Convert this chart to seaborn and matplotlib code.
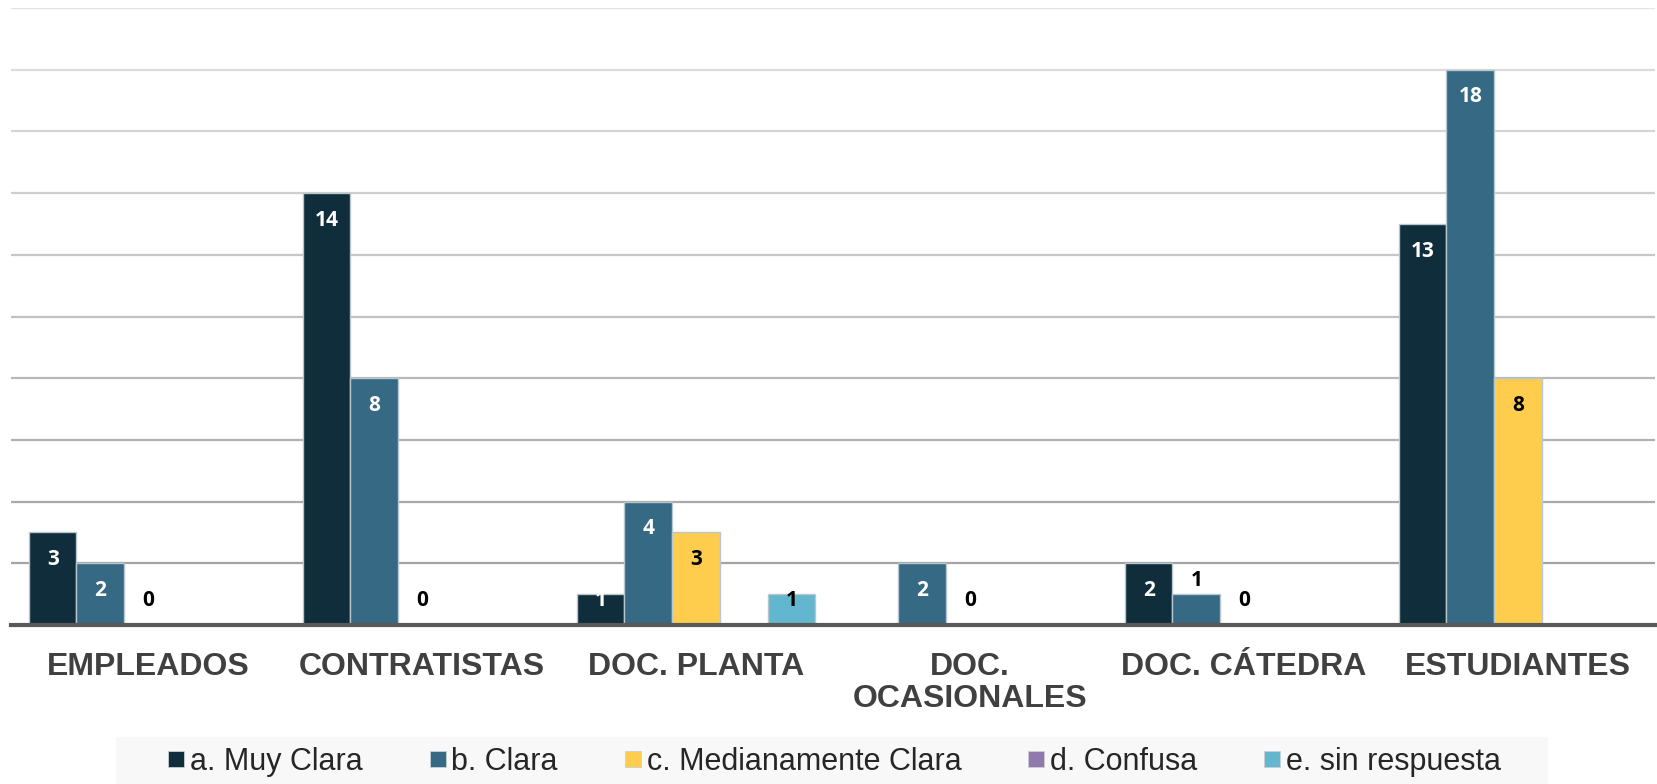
import numpy as np
import pandas as pd
import matplotlib
matplotlib.use("Agg")
import matplotlib.pyplot as plt
from matplotlib.lines import Line2D
import seaborn as sns

categories = ["EMPLEADOS", "CONTRATISTAS", "DOC. PLANTA", "DOC.\nOCASIONALES", "DOC. CÁTEDRA", "ESTUDIANTES"]
series = ["a. Muy Clara", "b. Clara", "c. Medianamente Clara", "d. Confusa", "e. sin respuesta"]
muy_clara = [3, 14, 1, np.nan, 2, 13]
clara = [2, 8, 4, 2, 1, 18]
medianamente = [0, 0, 3, 0, 0, 8]
confusa = [np.nan, np.nan, np.nan, np.nan, np.nan, np.nan]
sin_respuesta = [np.nan, np.nan, 1, np.nan, np.nan, np.nan]
colors = ["#0F2D3B", "#366983", "#FFCD4E", "#9179AE", "#62B6CD"]

values = [muy_clara, clara, medianamente, confusa, sin_respuesta]
rows = []
for s, vals in zip(series, values):
    for c, v in zip(categories, vals):
        rows.append({"cat": c, "serie": s, "val": v})
df = pd.DataFrame(rows)

sns.set_style("white")
plt.rcParams["font.family"] = ["Liberation Sans", "DejaVu Sans"]

fig = plt.figure(figsize=(16.57, 7.84), dpi=100)
ax = fig.add_axes([11 / 1657, 1 - 625 / 784, 1644 / 1657, 617 / 784])

width = 0.87
sns.barplot(data=df.dropna(), x="cat", y="val", hue="serie", order=categories,
            hue_order=series, palette=colors, saturation=1, width=width, dodge=True,
            edgecolor="#B8C6CD", linewidth=1, ax=ax, legend=False, zorder=3,
            errorbar=None)

ax.set_ylim(0, 20)
ax.set_xlim(-0.5, len(categories) - 0.5)
ax.set_yticks(np.arange(2, 21, 2))
ax.set_yticklabels([])
ax.tick_params(axis="y", length=0)
ax.tick_params(axis="x", length=0, pad=19.5)
ax.set_xlabel("")
ax.set_ylabel("")
for lbl in ax.get_xticklabels():
    lbl.set_fontsize(23)
    lbl.set_fontweight("bold")
    lbl.set_color("#404040")
    lbl.set_linespacing(1.1)

ax.grid(axis="y", linewidth=1.6, zorder=0)
glines = ax.get_ygridlines()
n = len(glines)
for k, gl in enumerate(glines):
    t = k / max(n - 1, 1)
    g = 0.64 + t * (0.89 - 0.64)
    gl.set_color((g, g, g))
for side in ["top", "right", "left"]:
    ax.spines[side].set_visible(False)
ax.spines["bottom"].set_color("#595959")
ax.spines["bottom"].set_linewidth(3)
ax.spines["bottom"].set_zorder(5)

bw = width / len(series)
for j, (s, vals) in enumerate(zip(series, values)):
    for i, v in enumerate(vals):
        if np.isnan(v):
            continue
        x = i + (j - (len(series) - 1) / 2) * bw
        color = "white" if j in (0, 1) else "black"
        if v == 0:
            dy = 18
            color = "black"
        elif v == 1 and j == 1:
            dy = 9.5
            color = "black"
        elif v == 1:
            dy = -4.5
        else:
            dy = -19.5
        ax.annotate(f"{int(v)}", (x, v), xytext=(0, dy), textcoords="offset points",
                    ha="center", va="center", fontsize=15, fontweight="bold",
                    color=color, family=["Open Sans", "DejaVu Sans"], zorder=6)

# legend background box
fig.patches.append(plt.Rectangle((116 / 1657, 0), (1548 - 116) / 1657, 47 / 784,
                                 transform=fig.transFigure, facecolor="#F8F8F8",
                                 edgecolor="none", zorder=0))
handles = [Line2D([0], [0], marker="s", linestyle="none", markersize=11,
                  markerfacecolor=c, markeredgecolor="#C8D0D4", markeredgewidth=0.6)
           for c in colors]
fig.legend(handles, series, loc="center", bbox_to_anchor=(834 / 1657, 22 / 784),
           ncol=5, frameon=False, fontsize=22, handletextpad=0.15,
           columnspacing=2.15, handlelength=0.6, borderaxespad=0)

fig.savefig("out.png", dpi=100)
